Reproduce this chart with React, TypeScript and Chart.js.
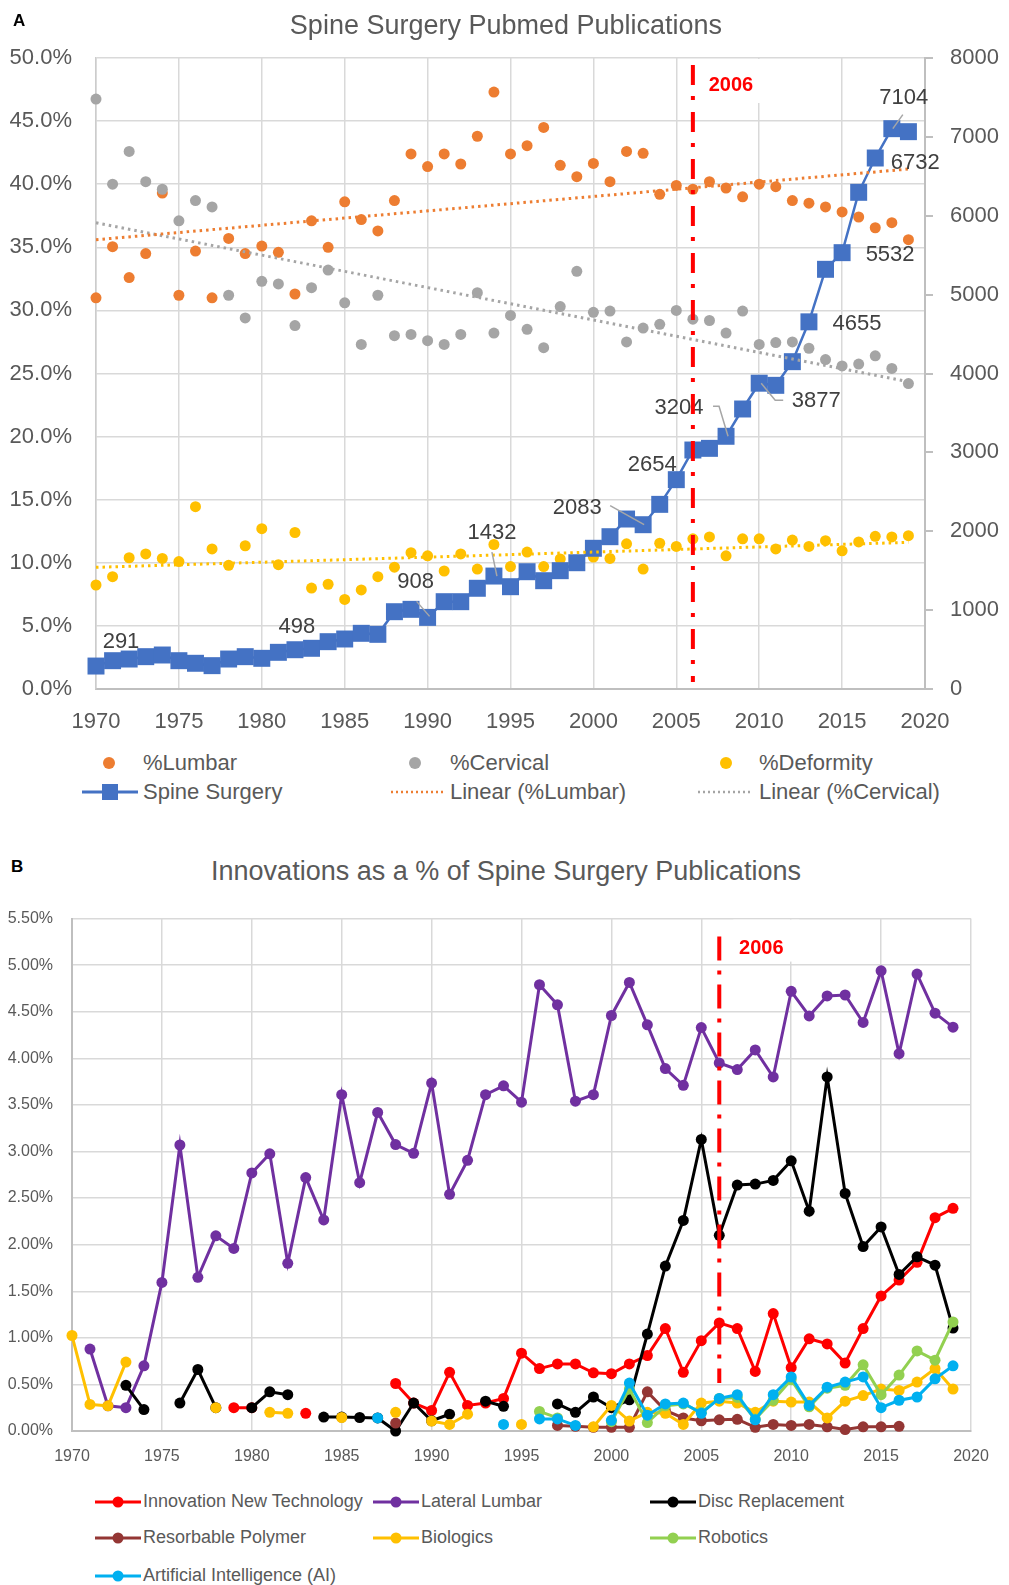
import React, { useEffect, useRef } from "react";
import { Chart, registerables } from "chart.js";

Chart.register(...registerables);

const FONT = '"Liberation Sans", Arial, Helvetica, sans-serif';
const TXT = "#595959";
const GRID = "#d9d9d9";
const AXIS = "#bfbfbf";

// ---------------- Panel A data ----------------
const years = [
  1970, 1971, 1972, 1973, 1974, 1975, 1976, 1977, 1978, 1979,
  1980, 1981, 1982, 1983, 1984, 1985, 1986, 1987, 1988, 1989,
  1990, 1991, 1992, 1993, 1994, 1995, 1996, 1997, 1998, 1999,
  2000, 2001, 2002, 2003, 2004, 2005, 2006, 2007, 2008, 2009,
  2010, 2011, 2012, 2013, 2014, 2015, 2016, 2017, 2018, 2019,
];

const lumbar = [
  31.0, 35.05, 32.6, 34.5, 39.3, 31.2, 34.7, 31.0, 35.7, 34.5,
  35.1, 34.6, 31.3, 37.1, 35.0, 38.6, 37.2, 36.3, 38.7, 42.4,
  41.4, 42.4, 41.6, 43.8, 47.3, 42.4, 43.05, 44.5, 41.5, 40.6,
  41.65, 40.2, 42.6, 42.45, 39.2, 39.9, 39.6, 40.2, 39.7, 39.0,
  40.0, 39.8, 38.7, 38.5, 38.2, 37.8, 37.4, 36.55, 36.95, 35.6,
];

const cervical = [
  46.75, 40.0, 42.6, 40.2, 39.6, 37.1, 38.7, 38.2, 31.2, 29.4,
  32.3, 32.1, 28.8, 31.8, 33.2, 30.6, 27.3, 31.2, 28.0, 28.1,
  27.6, 27.3, 28.1, 31.4, 28.2, 29.6, 28.5, 27.05, 30.3, 33.1,
  29.85, 29.95, 27.5, 28.6, 28.9, 30.0, 29.3, 29.2, 28.2, 29.95,
  27.3, 27.45, 27.5, 27.0, 26.1, 25.6, 25.75, 26.4, 25.4, 24.2,
];

const deformity = [
  8.24, 8.9, 10.4, 10.7, 10.35, 10.1, 14.45, 11.1, 9.8, 11.35,
  12.7, 9.85, 12.4, 8.0, 8.3, 7.1, 7.85, 8.9, 9.65, 10.8,
  10.55, 9.35, 10.7, 9.5, 11.45, 9.7, 10.85, 9.7, 10.3, 10.0,
  10.45, 10.35, 11.5, 9.5, 11.55, 11.3, 11.9, 12.05, 10.55, 11.9,
  11.9, 11.1, 11.8, 11.3, 11.75, 10.95, 11.65, 12.1, 12.05, 12.15,
];

const spineSurgery = [
  291, 359, 380, 410, 431, 359, 326, 296, 380, 410,
  389, 465, 498, 516, 600, 634, 706, 693, 980, 1010,
  908, 1107, 1107, 1277, 1432, 1297, 1487, 1373, 1500, 1601,
  1784, 1931, 2155, 2083, 2341, 2654, 3030, 3051, 3204, 3550,
  3877, 3850, 4150, 4655, 5321, 5532, 6297, 6732, 7104, 7066,
];

const trendYears = [1970, 2019];
const lumbarTrend = [35.6, 41.2];
const cervicalTrend = [36.95, 24.35];
const deformityTrend = [9.64, 11.62];

const markerYear = 2006;
const labelledYears = [1970, 1982, 1990, 1994, 2003, 2005, 2008, 2010, 2013, 2015, 2017, 2018];

// label placement (style only: pixel offsets from each point)
const labelStyle: Record<number, { dx: number; dy: number; leader?: number[][] }> = {
  1970: { dx: 25, dy: -24 },
  1982: { dx: 2, dy: -23 },
  1990: { dx: -12, dy: -35, leader: [[-11, -16], [2, -1]] },
  1994: { dx: -2, dy: -43, leader: [[-2, -24], [3, 0]] },
  2003: { dx: -66, dy: -17, leader: [[-33, -19], [1, 0]] },
  2005: { dx: -24, dy: -15 },
  2008: { dx: -47, dy: -28, leader: [[-13, -30], [-7, -30], [2, 0]] },
  2010: { dx: 57, dy: 18, leader: [[2, 0], [16, 17], [24, 17]] },
  2013: { dx: 48, dy: 2 },
  2015: { dx: 48, dy: 2 },
  2017: { dx: 40, dy: 5 },
  2018: { dx: 12, dy: -31, leader: [[11, -14], [1, 0]] },
};

// ---------------- Panel B data ----------------
const innovation = [
  null, null, null, null, null, null, null, null, null, 0.25,
  0.25, null, null, 0.19, null, null, null, null, 0.51, 0.30,
  0.22, 0.63, 0.275, 0.30, 0.35, 0.835, 0.67, 0.72, 0.72, 0.625,
  0.615, 0.72, 0.81, 1.10, 0.63, 0.97, 1.16, 1.10, 0.64, 1.26,
  0.68, 0.99, 0.935, 0.73, 1.10, 1.45, 1.62, 1.81, 2.29, 2.39,
];

const lateralLumbar = [
  null, 0.88, 0.27, 0.25, 0.70, 1.595, 3.07, 1.65, 2.095, 1.96,
  2.77, 2.975, 1.80, 2.72, 2.265, 3.61, 2.665, 3.42, 3.075, 2.98,
  3.735, 2.54, 2.905, 3.61, 3.705, 3.53, 4.79, 4.575, 3.54, 3.61,
  4.46, 4.815, 4.36, 3.89, 3.71, 4.33, 3.95, 3.88, 4.09, 3.80,
  4.72, 4.455, 4.67, 4.68, 4.385, 4.94, 4.05, 4.905, 4.485, 4.335,
];

const discReplacement = [
  null, null, null, 0.49, 0.23, null, 0.30, 0.66, 0.25, null,
  0.25, 0.42, 0.39, null, 0.15, 0.15, 0.145, 0.14, 0.0, 0.30,
  0.11, 0.18, null, 0.32, 0.265, null, null, 0.29, 0.20, 0.365,
  0.25, 0.335, 1.04, 1.77, 2.26, 3.13, 2.10, 2.64, 2.65, 2.69,
  2.90, 2.36, 3.80, 2.55, 1.98, 2.19, 1.68, 1.87, 1.78, 1.105,
];

const resorbablePolymer = [
  null, null, null, null, null, null, null, null, null, null,
  null, null, null, null, null, null, null, null, 0.085, null,
  null, null, null, null, null, null, null, 0.06, 0.05, 0.04,
  0.04, 0.04, 0.42, 0.22, 0.14, 0.11, 0.12, 0.125, 0.04, 0.07,
  0.06, 0.07, 0.045, 0.015, 0.045, 0.045, 0.05, null, null, null,
];

const biologics = [
  1.025, 0.285, 0.27, 0.74, null, null, null, null, 0.25, null,
  null, 0.20, 0.19, null, null, 0.145, null, null, 0.20, null,
  0.107, 0.07, 0.18, null, null, 0.07, null, null, null, 0.045,
  0.275, 0.107, 0.20, 0.19, 0.07, 0.30, 0.32, 0.30, 0.20, 0.32,
  0.31, 0.31, 0.14, 0.32, 0.38, 0.45, 0.435, 0.525, 0.67, 0.45,
];

const robotics = [
  null, null, null, null, null, null, null, null, null, null,
  null, null, null, null, null, null, null, null, null, null,
  null, null, null, null, null, null, 0.21, 0.14, null, null,
  0.10, 0.45, 0.09, 0.27, 0.29, 0.20, 0.35, 0.36, 0.13, 0.33,
  0.55, 0.26, 0.46, 0.49, 0.71, 0.39, 0.60, 0.86, 0.76, 1.17,
];

const artificialIntelligence = [
  null, null, null, null, null, null, null, null, null, null,
  null, null, null, null, null, null, null, 0.14, null, null,
  null, null, null, null, 0.07, null, 0.13, 0.13, 0.06, null,
  0.115, 0.515, 0.17, 0.29, 0.30, 0.19, 0.35, 0.39, 0.12, 0.39,
  0.58, 0.275, 0.47, 0.525, 0.58, 0.25, 0.33, 0.365, 0.56, 0.70,
];

const seriesB = [
  { name: "Innovation New Technology", color: "#ff0000", data: innovation, order: 7 },
  { name: "Lateral Lumbar", color: "#7030a0", data: lateralLumbar, order: 6 },
  { name: "Disc Replacement", color: "#000000", data: discReplacement, order: 5 },
  { name: "Resorbable Polymer", color: "#943634", data: resorbablePolymer, order: 4 },
  { name: "Biologics", color: "#ffc000", data: biologics, order: 3 },
  { name: "Robotics", color: "#92d050", data: robotics, order: 2 },
  { name: "Artificial Intelligence (AI)", color: "#00b0f0", data: artificialIntelligence, order: 1 },
];

const pts = (vals: (number | null)[]) => years.map((yr, i) => ({ x: yr, y: vals[i] }));
const trendPts = (vals: number[]) => trendYears.map((yr, i) => ({ x: yr, y: vals[i] }));

// ---------------- plugins ----------------
const panelAPlugin = {
  id: "panelA",
  afterDatasetsDraw(chart: any) {
    const { ctx, chartArea } = chart;
    const xs = chart.scales.x;
    const ys = chart.scales.y1;
    ctx.save();
    ctx.textAlign = "center";
    ctx.textBaseline = "middle";
    for (const yr of labelledYears) {
      const i = years.indexOf(yr);
      const v = spineSurgery[i];
      const px = xs.getPixelForValue(yr);
      const py = ys.getPixelForValue(v);
      const st = labelStyle[yr];
      if (st.leader) {
        ctx.beginPath();
        ctx.strokeStyle = "#a6a6a6";
        ctx.lineWidth = 1.5;
        ctx.setLineDash([]);
        st.leader.forEach(([dx, dy], k) =>
          k ? ctx.lineTo(px + dx, py + dy) : ctx.moveTo(px + dx, py + dy)
        );
        ctx.stroke();
      }
      ctx.font = `22px ${FONT}`;
      ctx.fillStyle = "#404040";
      ctx.fillText(String(v), px + st.dx, py + st.dy);
    }
    const mx = xs.getPixelForValue(markerYear);
    ctx.fillStyle = "#ffffff";
    ctx.fillRect(mx + 11, chartArea.top + 1, 62, 44);
    ctx.fillStyle = "#ff0000";
    ctx.font = `bold 20px ${FONT}`;
    ctx.fillText(String(markerYear), mx + 38, chartArea.top + 27);
    ctx.beginPath();
    ctx.strokeStyle = "#ff0000";
    ctx.lineWidth = 4;
    ctx.setLineDash([20, 11, 4, 12]);
    ctx.moveTo(mx, chartArea.top + 7);
    ctx.lineTo(mx, chartArea.bottom - 7);
    ctx.stroke();
    ctx.restore();
  },
};

const panelBPlugin = {
  id: "panelB",
  afterDatasetsDraw(chart: any) {
    const { ctx, chartArea } = chart;
    const xs = chart.scales.x;
    const mx = xs.getPixelForValue(markerYear);
    ctx.save();
    ctx.fillStyle = "#ffffff";
    ctx.fillRect(mx + 14, chartArea.top + 1, 66, 42);
    ctx.fillStyle = "#ff0000";
    ctx.font = `bold 20px ${FONT}`;
    ctx.textAlign = "center";
    ctx.textBaseline = "middle";
    ctx.fillText(String(markerYear), mx + 42, chartArea.top + 30);
    ctx.beginPath();
    ctx.strokeStyle = "#ff0000";
    ctx.lineWidth = 4;
    ctx.setLineDash([24, 10, 4, 10]);
    ctx.moveTo(mx, chartArea.top + 18);
    ctx.lineTo(mx, chartArea.bottom - 48);
    ctx.stroke();
    ctx.restore();
  },
};

// ---------------- charts ----------------
function PanelAChart() {
  const ref = useRef<HTMLCanvasElement>(null);
  useEffect(() => {
    const scatter = (label: string, color: string, vals: number[], order: number) => ({
      label,
      data: pts(vals),
      showLine: false,
      pointRadius: 5.5,
      pointBorderWidth: 0,
      pointBackgroundColor: color,
      borderColor: color,
      backgroundColor: color,
      yAxisID: "y",
      order,
      clip: false,
    });
    const trend = (label: string, color: string, vals: number[]) => ({
      label,
      data: trendPts(vals),
      borderColor: color,
      borderWidth: 3,
      borderDash: [2.5, 4],
      pointRadius: 0,
      yAxisID: "y",
      order: 0,
      clip: false,
    });
    const chart = new Chart(ref.current as HTMLCanvasElement, {
      type: "line",
      data: {
        datasets: [
          scatter("%Lumbar", "#ed7d31", lumbar, 4),
          scatter("%Cervical", "#a5a5a5", cervical, 3),
          scatter("%Deformity", "#ffc000", deformity, 2),
          {
            label: "Spine Surgery",
            data: pts(spineSurgery),
            borderColor: "#4472c4",
            borderWidth: 2.5,
            pointStyle: "rect",
            pointRadius: 12,
            pointBorderWidth: 0,
            pointBackgroundColor: "#4472c4",
            yAxisID: "y1",
            order: 1,
            clip: false,
          },
          trend("Linear (%Lumbar)", "#ed7d31", lumbarTrend),
          trend("Linear (%Cervical)", "#a5a5a5", cervicalTrend),
          trend("Linear (%Deformity)", "#ffc000", deformityTrend),
        ] as any,
      },
      options: {
        responsive: false,
        animation: false,
        devicePixelRatio: 1,
        events: [],
        layout: { padding: { top: 58, left: 0, right: 0, bottom: 0 } },
        plugins: { legend: { display: false }, title: { display: false }, tooltip: { enabled: false } },
        scales: {
          x: {
            type: "linear",
            min: 1970,
            max: 2020,
            afterFit: (s: any) => { s.height = 56; },
            ticks: { stepSize: 5, padding: 20, color: TXT, font: { family: FONT, size: 22 }, callback: (v: any) => String(v) },
            grid: { color: GRID, lineWidth: 1.5, drawTicks: false },
            border: { color: AXIS, width: 2 },
          },
          y: {
            position: "left",
            min: 0,
            max: 50,
            afterFit: (s: any) => { s.width = 96; },
            ticks: { stepSize: 5, padding: 24, color: TXT, font: { family: FONT, size: 22 }, callback: (v: any) => Number(v).toFixed(1) + "%" },
            grid: { color: GRID, lineWidth: 1.5, drawTicks: false },
            border: { color: "#cccccc", width: 1.5 },
          },
          y1: {
            position: "right",
            min: 0,
            max: 8000,
            afterFit: (s: any) => { s.width = 84; },
            ticks: { stepSize: 1000, padding: 17, color: TXT, font: { family: FONT, size: 22 }, callback: (v: any) => String(v) },
            grid: { drawOnChartArea: false, drawTicks: true, tickLength: 8, color: AXIS, lineWidth: 2 },
            border: { color: AXIS, width: 2 },
          },
        },
      } as any,
      plugins: [panelAPlugin],
    });
    return () => chart.destroy();
  }, []);
  return <canvas ref={ref} width={1009} height={745} style={{ position: "absolute", left: 0, top: 0, width: 1009, height: 745 }} />;
}

function PanelBChart() {
  const ref = useRef<HTMLCanvasElement>(null);
  useEffect(() => {
    const chart = new Chart(ref.current as HTMLCanvasElement, {
      type: "line",
      data: {
        datasets: seriesB.map((s) => ({
          label: s.name,
          data: pts(s.data),
          borderColor: s.color,
          backgroundColor: s.color,
          borderWidth: 3,
          pointRadius: 5.5,
          pointBorderWidth: 0,
          pointBackgroundColor: s.color,
          spanGaps: false,
          order: s.order,
          clip: false,
        })) as any,
      },
      options: {
        responsive: false,
        animation: false,
        devicePixelRatio: 1,
        events: [],
        layout: { padding: { top: 27, left: 0, right: 38, bottom: 0 } },
        plugins: { legend: { display: false }, title: { display: false }, tooltip: { enabled: false } },
        scales: {
          x: {
            type: "linear",
            min: 1970,
            max: 2020,
            afterFit: (s: any) => { s.height = 49; },
            ticks: { stepSize: 5, padding: 16, color: TXT, font: { family: FONT, size: 16 }, callback: (v: any) => String(v) },
            grid: { color: GRID, lineWidth: 1.5, drawTicks: false },
            border: { color: AXIS, width: 2 },
          },
          y: {
            min: 0,
            max: 5.5,
            afterFit: (s: any) => { s.width = 72; },
            ticks: { stepSize: 0.5, padding: 19, color: TXT, font: { family: FONT, size: 16 }, callback: (v: any) => Number(v).toFixed(2) + "%" },
            grid: { color: GRID, lineWidth: 1.5, drawTicks: false },
            border: { color: AXIS, width: 2 },
          },
        },
      } as any,
      plugins: [panelBPlugin],
    });
    return () => chart.destroy();
  }, []);
  return <canvas ref={ref} width={1009} height={590} style={{ position: "absolute", left: 0, top: 890, width: 1009, height: 590 }} />;
}

// ---------------- legends / titles ----------------
function Txt({ x, cy, size, children, bold, color, center }: any) {
  return (
    <div
      style={{
        position: "absolute",
        left: center ? x - 400 : x,
        width: center ? 800 : undefined,
        textAlign: center ? "center" : "left",
        top: cy - size * 0.59,
        fontSize: size,
        lineHeight: `${size * 1.2}px`,
        color: color || TXT,
        fontWeight: bold ? "bold" : "normal",
        whiteSpace: "nowrap",
      }}
    >
      {children}
    </div>
  );
}

function Dot({ cx, cy, color }: any) {
  return (
    <svg style={{ position: "absolute", left: cx - 7, top: cy - 7 }} width={14} height={14}>
      <circle cx={7} cy={7} r={6} fill={color} />
    </svg>
  );
}

function Dotted({ x1, x2, cy, color }: any) {
  const w = x2 - x1;
  return (
    <svg style={{ position: "absolute", left: x1, top: cy - 3 }} width={w} height={6}>
      <line x1={0} y1={3} x2={w} y2={3} stroke={color} strokeWidth={2.5} strokeDasharray="2 3" />
    </svg>
  );
}

function LineMark({ x, cy, color, w, r, square }: any) {
  return (
    <svg style={{ position: "absolute", left: x, top: cy - 10 }} width={w} height={20}>
      <line x1={0} y1={10} x2={w} y2={10} stroke={color} strokeWidth={3} />
      {square ? (
        <rect x={w / 2 - r} y={10 - r} width={2 * r} height={2 * r} fill={color} />
      ) : (
        <circle cx={w / 2} cy={10} r={r} fill={color} />
      )}
    </svg>
  );
}

const legendAItems = [
  { name: "%Lumbar", color: "#ed7d31", kind: "dot", col: 0, row: 0 },
  { name: "%Cervical", color: "#a5a5a5", kind: "dot", col: 1, row: 0 },
  { name: "%Deformity", color: "#ffc000", kind: "dot", col: 2, row: 0 },
  { name: "Spine Surgery", color: "#4472c4", kind: "square", col: 0, row: 1 },
  { name: "Linear (%Lumbar)", color: "#ed7d31", kind: "dotted", col: 1, row: 1 },
  { name: "Linear (%Cervical)", color: "#a5a5a5", kind: "dotted", col: 2, row: 1 },
];
const legendAColText = [143, 450, 759];
const legendADot = [109, 415, 726];
const legendADotted = [[391, 444], [698, 750]];
const legendARowY = [763, 792];

const legendBColSym = [95, 373, 650];
const legendBColText = [143, 421, 698];
const legendBRowY = [1502, 1538, 1576];

export default function App() {
  return (
    <div
      style={{
        position: "absolute",
        left: 0,
        top: 0,
        width: 1009,
        height: 1585,
        background: "#ffffff",
        fontFamily: FONT,
        overflow: "hidden",
      }}
    >
      <PanelAChart />
      <Txt x={13} cy={21} size={17} bold color="#000000">A</Txt>
      <Txt x={506} cy={25} size={27} center>Spine Surgery Pubmed Publications</Txt>
      {legendAItems.map((it) => {
        const cy = legendARowY[it.row];
        let sym: any = null;
        if (it.kind === "dot") sym = <Dot cx={legendADot[it.col]} cy={cy} color={it.color} />;
        else if (it.kind === "square") sym = <LineMark x={82} cy={cy} color={it.color} w={56} r={8} square />;
        else {
          const [a, b] = legendADotted[it.col - 1];
          sym = <Dotted x1={a} x2={b} cy={cy} color={it.color} />;
        }
        return (
          <React.Fragment key={it.name}>
            {sym}
            <Txt x={legendAColText[it.col]} cy={cy} size={22}>{it.name}</Txt>
          </React.Fragment>
        );
      })}

      <PanelBChart />
      <Txt x={11} cy={867} size={17} bold color="#000000">B</Txt>
      <Txt x={506} cy={871} size={27} center>Innovations as a % of Spine Surgery Publications</Txt>
      {seriesB.map((s, i) => {
        const col = i % 3;
        const row = Math.floor(i / 3);
        const cy = legendBRowY[row];
        return (
          <React.Fragment key={s.name}>
            <LineMark x={legendBColSym[col]} cy={cy} color={s.color} w={46} r={5.5} />
            <Txt x={legendBColText[col]} cy={cy} size={18}>{s.name}</Txt>
          </React.Fragment>
        );
      })}
    </div>
  );
}
